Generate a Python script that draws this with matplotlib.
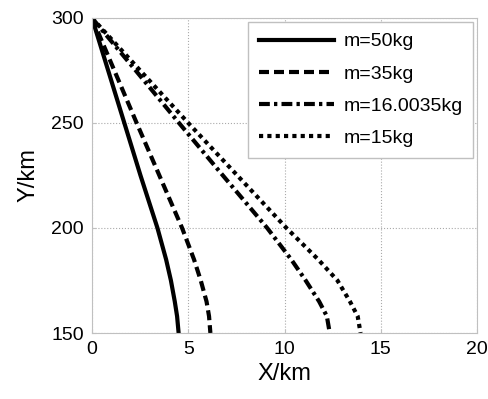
import matplotlib as mpl
import matplotlib.pyplot as plt
import numpy as np

plt.rcParams['font.family'] = ['Liberation Sans', 'DejaVu Sans']

# altitude samples (km) and horizontal distance for each mass
y = [300, 275, 250, 225, 200, 185, 175, 165, 158, 150]
x_50 = [0, 0.84, 1.68, 2.52, 3.4, 3.85, 4.1, 4.3, 4.42, 4.5]
x_35 = [0, 1.16, 2.32, 3.5, 4.68, 5.3, 5.65, 5.95, 6.08, 6.15]
x_16 = [0, 2.27, 4.52, 6.8, 9.1, 10.35, 11.1, 11.8, 12.2, 12.35]
x_15 = [0, 2.5, 5.0, 7.55, 10.1, 11.75, 12.75, 13.4, 13.8, 13.95]
labels = ['m=50kg', 'm=35kg', 'm=16.0035kg', 'm=15kg']

fig = plt.figure(figsize=(4.88, 3.99), dpi=100)
ax = fig.add_axes([0.1885, 0.1654, 0.789, 0.7896])

lw = 3
ax.plot(x_50, y, 'k-', lw=lw, label=labels[0])
ax.plot(x_35, y, 'k', lw=lw, ls=(0, (2.4, 1.2)), label=labels[1])
ax.plot(x_16, y, 'k', lw=lw, ls=(0, (2.6, 1.0, 0.8, 1.0)), label=labels[2])
ax.plot(x_15, y, 'k', lw=lw, ls=(0, (1.0, 1.0)), label=labels[3])

ax.set_xlim(0, 20)
ax.set_ylim(150, 300)
ax.set_xticks([0, 5, 10, 15, 20])
ax.set_yticks([150, 200, 250, 300])
ax.grid(True, ls=':', color='#aaaaaa', lw=0.8)
for s in ax.spines.values():
    s.set_color('#c0c0c0')
ax.tick_params(direction='in', length=3, color='#c0c0c0', labelsize=14, pad=6)
ax.set_xlabel('X/km', fontsize=17, labelpad=3)
ax.set_ylabel('Y/km', fontsize=17, labelpad=8)

leg = ax.legend(loc='upper right', fontsize=14, handlelength=3.9, handletextpad=0.45,
                fancybox=False, framealpha=1, edgecolor='#c0c0c0', borderpad=0.55,
                labelspacing=0.75, borderaxespad=0, bbox_to_anchor=(0.99, 0.987))
leg.get_frame().set_linewidth(1.0)

plt.savefig('out.png')
